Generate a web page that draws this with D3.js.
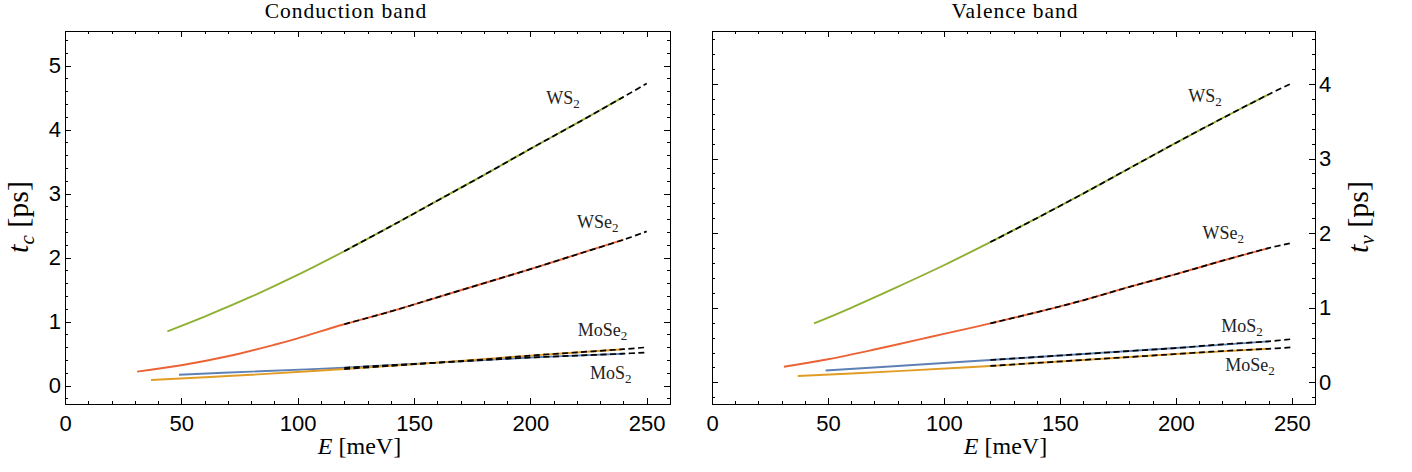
<!DOCTYPE html>
<html>
<head>
<meta charset="utf-8">
<script src="https://cdn.jsdelivr.net/npm/d3@7"></script>
<style>
  body { margin: 0; background: #fff; }
</style>
</head>
<body>
<svg width="1412" height="472"></svg>
<script>
// ---- data ----
// conduction band, model curves (solid)
const condWS2E = [44, 60, 80, 100, 120, 140, 160, 180, 200, 220, 240];
const condWS2T = [0.85, 1.08, 1.39, 1.73, 2.10, 2.49, 2.89, 3.29, 3.70, 4.10, 4.51];
const condWSe2E = [31, 50, 70, 90, 100, 120, 140, 160, 180, 200, 220, 240];
const condWSe2T = [0.22, 0.32, 0.46, 0.64, 0.74, 0.96, 1.16, 1.38, 1.60, 1.82, 2.05, 2.28];
const condMoS2E = [49, 80, 120, 160, 200, 240];
const condMoS2T = [0.17, 0.22, 0.28, 0.36, 0.44, 0.50];
const condMoSe2E = [37, 80, 120, 160, 200, 240];
const condMoSe2T = [0.09, 0.17, 0.26, 0.36, 0.47, 0.57];

// valence band, model curves (solid)
const valWS2E = [44, 60, 80, 100, 120, 140, 160, 180, 200, 220, 240];
const valWS2T = [0.79, 1.00, 1.28, 1.57, 1.88, 2.20, 2.53, 2.87, 3.21, 3.54, 3.86];
const valWSe2E = [31, 50, 70, 90, 100, 120, 140, 160, 180, 200, 220, 240];
const valWSe2T = [0.21, 0.31, 0.44, 0.58, 0.65, 0.79, 0.94, 1.10, 1.28, 1.45, 1.63, 1.80];
const valMoS2E = [49, 80, 120, 160, 200, 240];
const valMoS2T = [0.16, 0.22, 0.30, 0.38, 0.46, 0.55];
const valMoSe2E = [37, 80, 120, 160, 200, 240];
const valMoSe2T = [0.085, 0.15, 0.22, 0.30, 0.38, 0.45];

// fits (dashed), all on the same energy grid
const fitE = [120, 140, 160, 180, 200, 220, 240, 250];
const condFitWS2 = [2.10, 2.49, 2.89, 3.29, 3.70, 4.10, 4.51, 4.72];
const condFitWSe2 = [0.96, 1.16, 1.38, 1.60, 1.82, 2.05, 2.28, 2.41];
const condFitMoS2 = [0.28, 0.32, 0.36, 0.40, 0.44, 0.47, 0.50, 0.52];
const condFitMoSe2 = [0.26, 0.31, 0.36, 0.41, 0.47, 0.52, 0.57, 0.60];
const valFitWS2 = [1.88, 2.20, 2.53, 2.87, 3.21, 3.54, 3.86, 4.01];
const valFitWSe2 = [0.79, 0.94, 1.10, 1.28, 1.45, 1.63, 1.80, 1.87];
const valFitMoS2 = [0.30, 0.34, 0.38, 0.42, 0.46, 0.51, 0.55, 0.58];
const valFitMoSe2 = [0.22, 0.26, 0.30, 0.34, 0.38, 0.42, 0.45, 0.47];

const xTicks = [0, 50, 100, 150, 200, 250];
const condYTicks = [0, 1, 2, 3, 4, 5];
const valYTicks = [0, 1, 2, 3, 4];

const colors = { WS2: "#8fb032", WSe2: "#eb6235", MoS2: "#5e81b5", MoSe2: "#e19c24" };

const zip = (a, b) => a.map((v, i) => [v, b[i]]);

const svg = d3.select("svg");
const serif = "'Liberation Serif', 'DejaVu Serif', serif";
const sans = "'Liberation Sans', Arial, sans-serif";
const plotTop = 31, plotBottom = 404;

const panels = [
  {
    title: "Conduction band", titleX: 346,
    x0: 65, x1: 670, yDomain: [-0.286, 5.54], yTicks: condYTicks, side: "left",
    sub: "c", labelX: 28,
    series: [
      { name: "WS", s: "2", c: colors.WS2, m: zip(condWS2E, condWS2T), f: zip(fitE, condFitWS2), lab: [214, 4.5] },
      { name: "WSe", s: "2", c: colors.WSe2, m: zip(condWSe2E, condWSe2T), f: zip(fitE, condFitWSe2), lab: [229, 2.56] },
      { name: "MoS", s: "2", c: colors.MoS2, m: zip(condMoS2E, condMoS2T), f: zip(fitE, condFitMoS2), lab: [234.5, 0.2] },
      { name: "MoSe", s: "2", c: colors.MoSe2, m: zip(condMoSe2E, condMoSe2T), f: zip(fitE, condFitMoSe2), lab: [231, 0.87] }
    ]
  },
  {
    title: "Valence band", titleX: 1015,
    x0: 712, x1: 1315, yDomain: [-0.29, 4.71], yTicks: valYTicks, side: "right",
    sub: "v", labelX: 1368,
    series: [
      { name: "WS", s: "2", c: colors.WS2, m: zip(valWS2E, valWS2T), f: zip(fitE, valFitWS2), lab: [212.6, 3.84] },
      { name: "WSe", s: "2", c: colors.WSe2, m: zip(valWSe2E, valWSe2T), f: zip(fitE, valFitWSe2), lab: [220.4, 2.0] },
      { name: "MoS", s: "2", c: colors.MoS2, m: zip(valMoS2E, valMoS2T), f: zip(fitE, valFitMoS2), lab: [228.5, 0.755] },
      { name: "MoSe", s: "2", c: colors.MoSe2, m: zip(valMoSe2E, valMoSe2T), f: zip(fitE, valFitMoSe2), lab: [232, 0.23] }
    ]
  }
];

function styleAxis(sel, size) {
  sel.attr("font-family", sans).attr("font-size", size);
  sel.select(".domain").remove();
  sel.selectAll("line").attr("stroke", "#000").attr("shape-rendering", "crispEdges");
}

panels.forEach(p => {
  const x = d3.scaleLinear().domain([0, 260]).range([p.x0, p.x1]);
  const y = d3.scaleLinear().domain(p.yDomain).range([plotBottom, plotTop]);
  const g = svg.append("g");

  const xMinor = d3.range(0, 261, 10).filter(v => v % 50 !== 0);
  const yMinor = d3.range(Math.ceil(p.yDomain[0] * 5), Math.floor(p.yDomain[1] * 5) + 1)
    .map(v => v / 5).filter(v => Math.abs(v - Math.round(v)) > 1e-6);

  // bottom
  g.append("g").attr("transform", `translate(0,${plotBottom})`)
    .call(d3.axisBottom(x).tickValues(xTicks).tickSize(-6).tickPadding(11))
    .call(s => styleAxis(s, 22));
  g.append("g").attr("transform", `translate(0,${plotBottom})`)
    .call(d3.axisBottom(x).tickValues(xMinor).tickSize(-3).tickFormat(""))
    .call(s => styleAxis(s, 22));
  // top
  g.append("g").attr("transform", `translate(0,${plotTop})`)
    .call(d3.axisTop(x).tickValues(xTicks).tickSize(-6).tickFormat(""))
    .call(s => styleAxis(s, 22));
  g.append("g").attr("transform", `translate(0,${plotTop})`)
    .call(d3.axisTop(x).tickValues(xMinor).tickSize(-3).tickFormat(""))
    .call(s => styleAxis(s, 22));
  // left and right
  const labelled = p.side;
  [["left", p.x0, d3.axisLeft], ["right", p.x1, d3.axisRight]].forEach(([side, pos, ax]) => {
    g.append("g").attr("transform", `translate(${pos},0)`)
      .call(ax(y).tickValues(p.yTicks).tickSize(-6).tickPadding(4)
        .tickFormat(side === labelled ? d3.format("d") : ""))
      .call(s => styleAxis(s, 22));
    g.append("g").attr("transform", `translate(${pos},0)`)
      .call(ax(y).tickValues(yMinor).tickSize(-3).tickFormat(""))
      .call(s => styleAxis(s, 22));
  });

  // frame
  g.append("rect")
    .attr("x", p.x0).attr("y", plotTop)
    .attr("width", p.x1 - p.x0).attr("height", plotBottom - plotTop)
    .attr("fill", "none").attr("stroke", "#000").attr("stroke-width", 1)
    .attr("shape-rendering", "crispEdges");

  const line = d3.line().x(d => x(d[0])).y(d => y(d[1])).curve(d3.curveCatmullRom.alpha(0.5));

  // model curves
  g.selectAll(".model").data(p.series).enter().append("path")
    .attr("d", d => line(d.m))
    .attr("fill", "none").attr("stroke", d => d.c).attr("stroke-width", 1.9);
  // fits
  g.selectAll(".fit").data(p.series).enter().append("path")
    .attr("d", d => line(d.f))
    .attr("fill", "none").attr("stroke", "#000").attr("stroke-width", 1.7)
    .attr("stroke-dasharray", "6,3.5");

  // curve labels
  p.series.forEach(d => {
    const t = g.append("text")
      .attr("x", x(d.lab[0])).attr("y", y(d.lab[1]) + 6)
      .attr("text-anchor", "middle")
      .attr("font-family", serif).attr("font-size", 18).attr("fill", "#222");
    t.append("tspan").text(d.name);
    t.append("tspan").attr("font-size", 13).attr("dy", 4).text(d.s);
  });

  // title
  svg.append("text")
    .attr("x", p.titleX).attr("y", 18)
    .attr("text-anchor", "middle")
    .attr("font-family", serif).attr("font-size", 21.5)
    .attr("letter-spacing", 1)
    .text(p.title);

  // x label
  const xl = svg.append("text")
    .attr("x", (p.x0 + p.x1) / 2 - 8).attr("y", 454)
    .attr("text-anchor", "middle")
    .attr("font-family", serif).attr("font-size", 24);
  xl.append("tspan").attr("font-style", "italic").text("E");
  xl.append("tspan").text(" [meV]");

  // y label
  const yl = svg.append("text")
    .attr("transform", `translate(${p.labelX},217) rotate(-90)`)
    .attr("text-anchor", "middle")
    .attr("font-family", serif).attr("font-size", 30);
  yl.append("tspan").attr("font-style", "italic").text("t");
  yl.append("tspan").attr("font-style", "italic").attr("font-size", 21).attr("dy", 6).text(p.sub);
  yl.append("tspan").attr("dy", -6).text(" [ps]");
});
</script>
</body>
</html>
